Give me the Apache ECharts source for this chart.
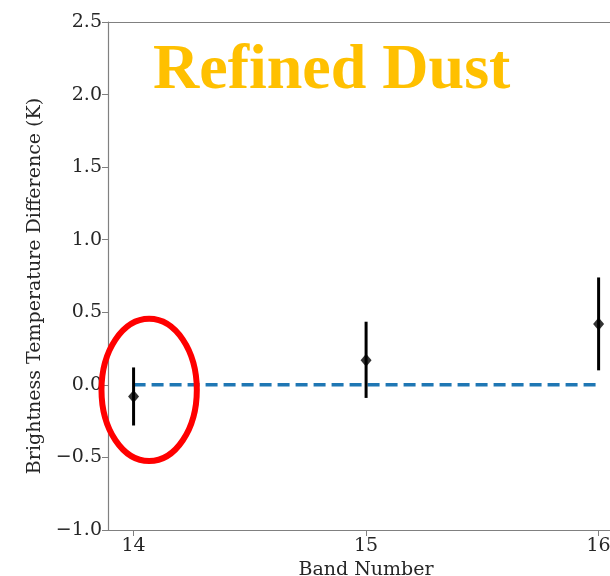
<!DOCTYPE html>
<html>
<head>
<meta charset="utf-8">
<script src="https://cdn.jsdelivr.net/npm/echarts@6/dist/echarts.min.js"></script>
<style>
    html, body {margin: 0; padding: 0; background: #fff;}
    #main {width: 610px; height: 576px;}
</style>
</head>
<body>
<div id="main"></div>
<script>
// band numbers and the measured differences with their error bar ends
var bands = [14, 15, 16];
var diffValues = [-0.08, 0.17, 0.42];
var errLow = [-0.28, -0.09, 0.10];
var errHigh = [0.12, 0.435, 0.74];
var zeroLine = [[14, 0], [16, 0]];
// highlight ellipse around band 14: centre x, centre y, half width, half height (data units)
var ringAround = [14.067, -0.035, 0.205, 0.49];

var serif = '"DejaVu Serif", serif';
var axisGray = '#808080';

var myChart = echarts.init(document.getElementById('main'));

var errData = [];
for (var i = 0; i < bands.length; i++) {
    errData.push([bands[i], errLow[i], errHigh[i]]);
}
var pts = [];
for (var i = 0; i < bands.length; i++) {
    pts.push([bands[i], diffValues[i]]);
}

var option = {
    animation: false,
    grid: {left: 108, right: 0, top: 22, bottom: 46, outerBoundsMode: 'none'},
    xAxis: [{
        type: 'value',
        min: 13.89,
        max: 16.049,
        name: 'Band Number',
        nameLocation: 'middle',
        nameGap: 29,
        // the original axis runs past the right edge, so its title sits under 15
        nameTextStyle: {fontFamily: serif, fontSize: 19, color: '#262626', padding: [0, 0, 0, 14]},
        axisLine: {show: true, onZero: false, lineStyle: {color: axisGray, width: 1.2}},
        axisTick: {show: true, length: 6, lineStyle: {color: axisGray}, customValues: bands},
        axisLabel: {fontFamily: serif, fontSize: 19, color: '#262626', margin: 7, customValues: bands},
        splitLine: {show: false}
    }, {
        type: 'value',
        position: 'top',
        min: 13.89,
        max: 16.049,
        axisLine: {show: true, onZero: false, lineStyle: {color: axisGray, width: 1.2}},
        axisTick: {show: false},
        axisLabel: {show: false},
        splitLine: {show: false}
    }],
    yAxis: {
        type: 'value',
        min: -1.0,
        max: 2.5,
        interval: 0.5,
        name: 'Brightness Temperature Difference (K)',
        nameLocation: 'middle',
        nameGap: 59,
        nameTextStyle: {fontFamily: serif, fontSize: 19, color: '#262626', padding: [0, 20, 0, 0]},
        axisLine: {show: true, onZero: false, lineStyle: {color: axisGray, width: 1.2}},
        axisTick: {show: true, length: 6, lineStyle: {color: axisGray}},
        axisLabel: {
            fontFamily: serif, fontSize: 19, color: '#262626', margin: 6,
            formatter: function (v) {
                var s = Math.abs(v).toFixed(1);
                return v < 0 ? '\u2212' + s : s;
            }
        },
        splitLine: {show: false}
    },
    series: [{
        type: 'line',
        data: zeroLine,
        symbol: 'none',
        lineStyle: {color: '#1f77b4', width: 3.5, type: [12, 6]},
        z: 2
    }, {
        type: 'custom',
        data: errData,
        renderItem: function (params, api) {
            var x = api.value(0);
            var top = api.coord([x, api.value(2)]);
            var bot = api.coord([x, api.value(1)]);
            return {
                type: 'line',
                shape: {x1: top[0], y1: top[1], x2: bot[0], y2: bot[1]},
                style: {stroke: '#000', lineWidth: 3}
            };
        },
        z: 3
    }, {
        type: 'scatter',
        data: pts,
        symbol: 'diamond',
        symbolSize: [11, 13],
        itemStyle: {color: '#000'},
        z: 4
    }]
};

myChart.setOption(option);

// ring and title drawn after layout so they sit on the data coordinates
var c = myChart.convertToPixel({xAxisIndex: 0, yAxisIndex: 0}, [ringAround[0], ringAround[1]]);
var e = myChart.convertToPixel({xAxisIndex: 0, yAxisIndex: 0}, [ringAround[0] + ringAround[2], ringAround[1] + ringAround[3]]);

myChart.setOption({
    graphic: [{
        type: 'ellipse',
        shape: {cx: c[0], cy: c[1], rx: e[0] - c[0], ry: c[1] - e[1]},
        style: {fill: null, stroke: '#ff0000', lineWidth: 6},
        z: 10
    }, {
        type: 'text',
        left: 153,
        top: 39,
        style: {
            text: 'Refined Dust',
            fontFamily: '"Liberation Serif", "Times New Roman", serif',
            fontWeight: 'bold',
            fontSize: 64,
            fill: '#ffc000'
        },
        z: 10
    }]
});
</script>
</body>
</html>
